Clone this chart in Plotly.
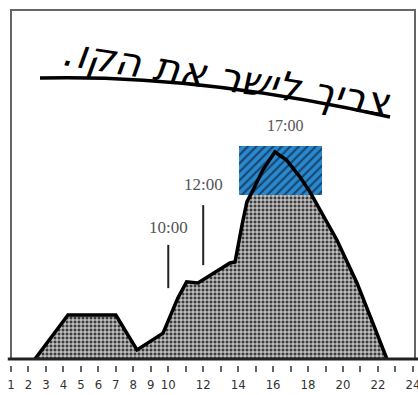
import plotly.graph_objects as go

# Hour of day and load level of the curve
hours = [2.37, 4.26, 7.00, 8.21, 9.70, 10.55, 11.05, 11.70, 13.53, 13.82, 14.22,
         14.50, 14.85, 15.42, 16.10, 16.77, 17.53, 18.11, 19.65, 20.80, 21.71, 22.51]
level = [0, 12.6, 12.6, 2.6, 7.4, 17.5, 22.1, 21.8, 27.5, 27.8, 38.4,
         45.0, 48.4, 54.2, 59.3, 57.0, 52.2, 47.9, 34.1, 21.8, 10.3, 0]

# Peak window (highlighted box)
peak_x = [14.05, 18.80]
peak_y = [47.0, 61.0]

# Time markers: (hour, bottom, top, label y)
marker_hours = [10, 12]
marker_low = [20.3, 26.9]
marker_high = [32.7, 44.1]
marker_text = ["10:00", "12:00"]
marker_label_y = [37.8, 49.9]
peak_label = "17:00"
peak_label_x = 16.7
peak_label_y = 67.0

tick_vals = list(range(1, 25))
tick_text = [str(h) if (h <= 10 or h % 2 == 0) else "" for h in tick_vals]

# Right-to-left marks keep the final period on the left end of the line
title_text = "\u200fצריך לישר את הקו.\u200f"

fig = go.Figure()

# Cross-hatched area under the curve
fig.add_trace(go.Scatter(
    x=hours, y=level, mode="lines", fill="tozeroy",
    line=dict(width=0, color="black"),
    fillcolor="#5a5a5a",
    fillpattern=dict(shape="+", bgcolor="#3c3c3c", fgcolor="#f6f6f6",
                     size=4, solidity=0.4, fillmode="replace"),
    hoverinfo="skip", showlegend=False,
))

# Peak box with diagonal hatching
fig.add_trace(go.Scatter(
    x=[peak_x[0], peak_x[1], peak_x[1], peak_x[0], peak_x[0]],
    y=[peak_y[0], peak_y[0], peak_y[1], peak_y[1], peak_y[0]],
    mode="lines", fill="toself", line=dict(width=0),
    fillcolor="#2a84c6",
    fillpattern=dict(shape="/", bgcolor="#2a88cc", fgcolor="#17446e",
                     size=6, solidity=0.35, fillmode="replace"),
    hoverinfo="skip", showlegend=False,
))

# Curve outline
fig.add_trace(go.Scatter(
    x=hours, y=level, mode="lines",
    line=dict(width=3.5, color="black"),
    hoverinfo="skip", showlegend=False,
))

# Vertical time markers
for h, lo, hi in zip(marker_hours, marker_low, marker_high):
    fig.add_trace(go.Scatter(
        x=[h, h], y=[lo, hi], mode="lines",
        line=dict(width=2, color="#222"),
        hoverinfo="skip", showlegend=False,
    ))

annotations = []
for h, t, ly in zip(marker_hours, marker_text, marker_label_y):
    annotations.append(dict(x=h, y=ly, text=t, showarrow=False,
                            font=dict(family="Liberation Serif", size=17, color="#555")))
annotations.append(dict(x=peak_label_x, y=peak_label_y, text=peak_label, showarrow=False,
                        font=dict(family="Liberation Serif", size=16, color="#555")))

# Handwritten-style heading
annotations.append(dict(xref="paper", yref="paper", x=0.535, y=0.81,
                        xanchor="center", yanchor="middle",
                        text=title_text, showarrow=False, textangle=9,
                        font=dict(family="DejaVu Sans", size=40, color="black",
                                  style="italic")))

ybot = (365 - 359) / 355.0

shapes = [
    # frame
    dict(type="rect", xref="paper", yref="paper", x0=0, x1=1, y0=ybot, y1=1,
         line=dict(color="#666", width=2), layer="below"),
    # baseline
    dict(type="line", xref="paper", yref="paper", x0=-0.008, x1=1.01, y0=ybot, y1=ybot,
         line=dict(color="#222", width=3)),
    # heading underline
    dict(type="path", xref="paper", yref="paper",
         path="M %.4f,%.4f Q %.4f,%.4f %.4f,%.4f" % (
             (40 - 11) / 404, (365 - 78) / 355,
             (200 - 11) / 404, (365 - 74) / 355,
             (390 - 11) / 404, (365 - 117) / 355),
         line=dict(color="black", width=3.5)),
]

fig.update_layout(
    width=418, height=395,
    margin=dict(l=11, r=3, t=10, b=30, autoexpand=False),
    paper_bgcolor="white", plot_bgcolor="white",
    showlegend=False,
    annotations=annotations,
    shapes=shapes,
    xaxis=dict(range=[1, 24.12], anchor="free", position=0, automargin=False,
               tickmode="array", tickvals=tick_vals, ticktext=tick_text,
               ticks="outside", ticklen=6, tickwidth=1.5, tickcolor="#666",
               ticklabelstandoff=1, ticklabeloverflow="allow",
               showgrid=False, zeroline=False, showline=False,
               tickfont=dict(family="DejaVu Sans Condensed", size=13, color="#333")),
    yaxis=dict(range=[0, 100], domain=[ybot, 1], visible=False,
               showgrid=False, zeroline=False),
)

fig.write_html("out.html")
